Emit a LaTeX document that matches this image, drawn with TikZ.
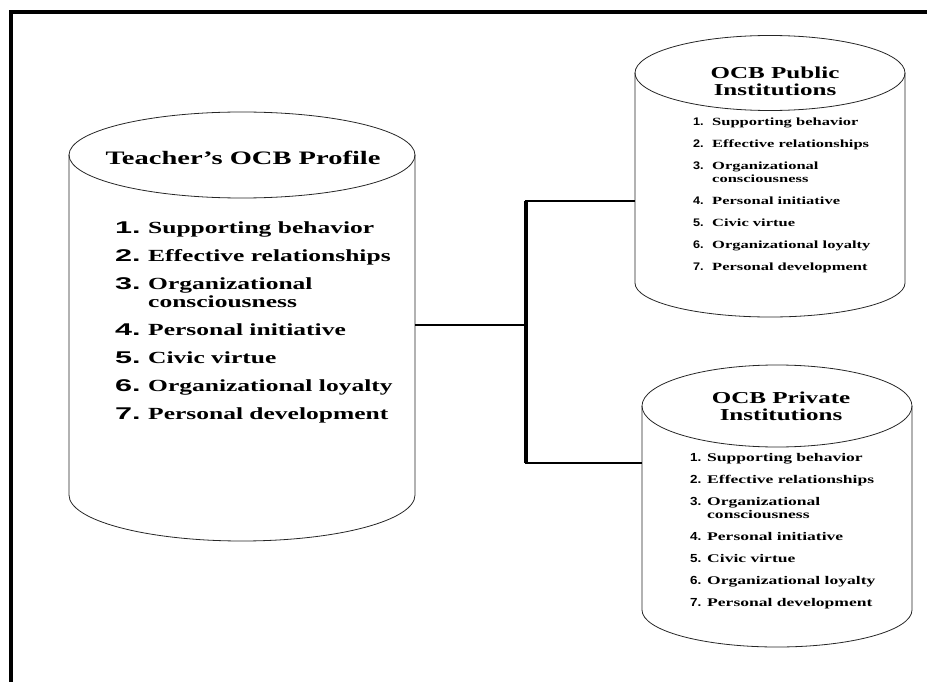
\documentclass[tikz,border=0pt]{standalone}
\usepackage{fontspec}
\setmainfont[FakeStretch=1.5]{Liberation Serif}
\newfontfamily\numfont[FakeStretch=1.8]{Liberation Sans}
\newfontfamily\slimnumfont[FakeStretch=1.15]{Liberation Sans}

%% the seven OCB dimensions, #1 = number font, #2 = width of the number column, #3 = gap between items
\newcommand{\ocbitems}[3]{%
  \begin{tabular}[t]{@{}l@{}l@{}}
    \makebox[#2][l]{#1{1.}} & Supporting behavior\\[#3]
    \makebox[#2][l]{#1{2.}} & Effective relationships\\[#3]
    \makebox[#2][l]{#1{3.}} & Organizational\\
                            & consciousness\\[#3]
    \makebox[#2][l]{#1{4.}} & Personal initiative\\[#3]
    \makebox[#2][l]{#1{5.}} & Civic virtue\\[#3]
    \makebox[#2][l]{#1{6.}} & Organizational loyalty\\[#3]
    \makebox[#2][l]{#1{7.}} & Personal development
  \end{tabular}}

\begin{document}
\begin{tikzpicture}[x=1pt, y=-1pt,
    drum/.style={draw=black!85, line width=0.8pt},
    body/.style={inner sep=0pt, outer sep=0pt},
    lbl/.style={inner sep=0pt},
    link/.style={line width=2pt}]
  \useasboundingbox (0,0) rectangle (927,682);
  %% Frame
  \draw[line width=3.5pt] (11,690) -- (11,12) -- (935,12);
  %% Teacher's profile
  \node[body, minimum width=346pt, minimum height=340pt] (teacher) at (242,325) {};
  \draw[drum] (teacher.north) ellipse [x radius=173pt, y radius=43pt];
  \draw[drum] (teacher.north west) -- (teacher.south west)
    arc [start angle=180, end angle=360, x radius=173pt, y radius=46pt] -- (teacher.north east);
  \node[lbl, font=\fontsize{19}{20}\selectfont\bfseries] (teachertitle) at (243,158) {Teacher's OCB Profile};
  \node[lbl, anchor=base west, font=\fontsize{17}{18}\selectfont\bfseries] (teacherlist) at (115,233.5) {\ocbitems{\numfont}{33pt}{10pt}};
  %% Public institutions
  \node[body, minimum width=270pt, minimum height=210pt] (public) at (770,178) {};
  \draw[drum] (public.north) ellipse [x radius=135pt, y radius=37.5pt];
  \draw[drum] (public.north west) -- (public.south west)
    arc [start angle=180, end angle=360, x radius=135pt, y radius=34pt] -- (public.north east);
  \node[lbl, align=center, font=\fontsize{16.7}{17}\selectfont\bfseries] (publictitle) at (775,81.5) {OCB Public\\Institutions};
  \node[lbl, anchor=base west, font=\fontsize{11}{13}\selectfont\bfseries] (publiclist) at (693,126) {\ocbitems{\slimnumfont}{19pt}{9pt}};
  %% Private institutions
  \node[body, minimum width=270pt, minimum height=204pt] (private) at (777,508) {};
  \draw[drum] (private.north) ellipse [x radius=135pt, y radius=41pt];
  \draw[drum] (private.north west) -- (private.south west)
    arc [start angle=180, end angle=360, x radius=135pt, y radius=37pt] -- (private.north east);
  \node[lbl, align=center, font=\fontsize{16.7}{17}\selectfont\bfseries] (privatetitle) at (781,406.5) {OCB Private\\Institutions};
  \node[lbl, anchor=base west, font=\fontsize{11.7}{13}\selectfont\bfseries] (privatelist) at (690,461) {\ocbitems{\slimnumfont}{17pt}{9pt}};
  %% Connectors
  \coordinate (fork) at (526,325);
  \coordinate (pubin) at ([yshift=-23pt]public.west);
  \coordinate (privin) at ([yshift=45pt]private.west);
  \draw[link] (teacher.east) -- (fork);
  \draw[link] (pubin) -| (fork) |- (privin);
  \draw[link, line width=3.2pt] (fork |- pubin) -- (fork |- privin);
\end{tikzpicture}
\end{document}
